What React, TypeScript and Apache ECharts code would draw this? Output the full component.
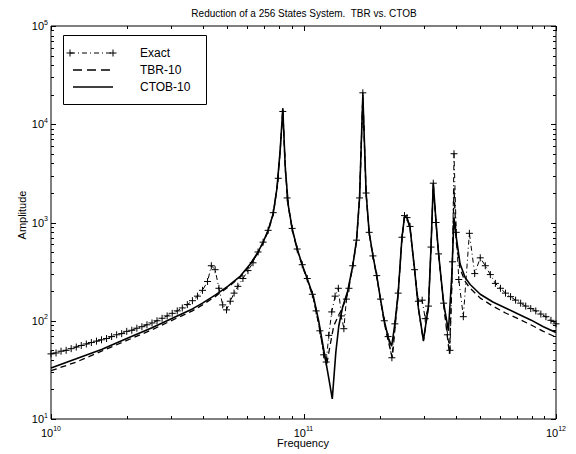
import React, { useEffect, useRef } from "react";
import * as echarts from "echarts";

// Exact response: [frequency (Hz), amplitude]
const exactData: [number, number][] = [
  [1.0e10, 46], [1.047e10, 47], [1.096e10, 49], [1.148e10, 50], [1.202e10, 52],
  [1.259e10, 54], [1.318e10, 56], [1.38e10, 58], [1.445e10, 60], [1.514e10, 62],
  [1.585e10, 64], [1.66e10, 66], [1.738e10, 69], [1.82e10, 72], [1.905e10, 74],
  [1.995e10, 78], [2.089e10, 80], [2.188e10, 84], [2.291e10, 87], [2.399e10, 91],
  [2.512e10, 95], [2.63e10, 100], [2.754e10, 106], [2.884e10, 112], [3.02e10, 119],
  [3.162e10, 126], [3.311e10, 135], [3.467e10, 146], [3.631e10, 160], [3.802e10, 178],
  [3.981e10, 204], [4.169e10, 251], [4.315e10, 363], [4.467e10, 331], [4.624e10, 214],
  [4.786e10, 145], [4.955e10, 129], [5.129e10, 158], [5.309e10, 191], [5.495e10, 224],
  [5.754e10, 269], [6.026e10, 324], [6.31e10, 389], [6.607e10, 501], [6.918e10, 631],
  [7.244e10, 832], [7.586e10, 1259], [7.943e10, 2818], [8.279e10, 13490], [8.61e10, 1778],
  [9.016e10, 871], [9.441e10, 537], [9.886e10, 372], [1.035e11, 269], [1.084e11, 186],
  [1.122e11, 126], [1.161e11, 79], [1.202e11, 45], [1.23e11, 38], [1.259e11, 71],
  [1.294e11, 123], [1.334e11, 178], [1.374e11, 214], [1.413e11, 112], [1.445e11, 83],
  [1.479e11, 166], [1.514e11, 214], [1.567e11, 363], [1.622e11, 661], [1.667e11, 1778],
  [1.718e11, 20890], [1.77e11, 1995], [1.82e11, 794], [1.884e11, 457], [1.95e11, 288],
  [2.018e11, 166], [2.089e11, 100], [2.163e11, 69], [2.239e11, 42], [2.301e11, 93],
  [2.371e11, 191], [2.455e11, 708], [2.512e11, 1175], [2.57e11, 1122], [2.642e11, 912],
  [2.754e11, 331], [2.851e11, 158], [2.951e11, 162], [3.034e11, 105], [3.126e11, 141],
  [3.199e11, 562], [3.266e11, 2512], [3.35e11, 1000], [3.428e11, 479], [3.589e11, 151],
  [3.715e11, 72], [3.802e11, 50], [3.89e11, 398], [3.945e11, 5012], [4.027e11, 794],
  [4.121e11, 263], [4.295e11, 110], [4.539e11, 776], [4.764e11, 302], [5.012e11, 437],
  [5.248e11, 363], [5.495e11, 295], [5.754e11, 240], [6.026e11, 214], [6.31e11, 191],
  [6.607e11, 176], [6.918e11, 162], [7.244e11, 151], [7.586e11, 141], [7.943e11, 133],
  [8.318e11, 126], [8.71e11, 117], [9.12e11, 110], [9.55e11, 101], [1.0e12, 93],
];

// TBR-10 reduced model
const tbrData: [number, number][] = [
  [1.0e10, 31], [1.259e10, 38], [1.585e10, 49], [1.995e10, 63], [2.512e10, 81],
  [3.162e10, 107], [3.631e10, 126], [3.981e10, 145], [4.467e10, 176], [5.012e10, 219],
  [5.623e10, 279], [6.166e10, 372], [6.607e10, 490], [6.918e10, 617], [7.244e10, 813],
  [7.586e10, 1202], [7.852e10, 2188], [8.091e10, 5495], [8.279e10, 14130], [8.472e10, 3467],
  [8.71e10, 1445], [9.016e10, 851], [9.441e10, 525], [9.886e10, 363], [1.047e11, 240],
  [1.096e11, 166], [1.148e11, 93], [1.202e11, 48], [1.236e11, 36], [1.274e11, 56],
  [1.318e11, 89], [1.38e11, 115], [1.429e11, 135], [1.496e11, 195], [1.567e11, 355],
  [1.622e11, 646], [1.667e11, 1738], [1.718e11, 19050], [1.77e11, 1950], [1.82e11, 776],
  [1.884e11, 447], [1.95e11, 282], [2.018e11, 162], [2.089e11, 95], [2.163e11, 63],
  [2.249e11, 42], [2.312e11, 93], [2.371e11, 186], [2.455e11, 692], [2.512e11, 1122],
  [2.57e11, 1096], [2.642e11, 871], [2.754e11, 324], [2.851e11, 132], [2.985e11, 62],
  [3.126e11, 138], [3.199e11, 550], [3.266e11, 2455], [3.35e11, 977], [3.428e11, 468],
  [3.589e11, 145], [3.784e11, 46], [3.873e11, 251], [3.945e11, 2239], [4.027e11, 631],
  [4.169e11, 339], [4.365e11, 251], [4.571e11, 214], [5.012e11, 170], [5.623e11, 141],
  [6.31e11, 120], [7.079e11, 105], [7.943e11, 91], [8.913e11, 78], [1.0e12, 68],
];

// CTOB-10 reduced model
const ctobData: [number, number][] = [
  [1.0e10, 33], [1.259e10, 41], [1.585e10, 51], [1.995e10, 66], [2.512e10, 85],
  [3.162e10, 112], [3.631e10, 132], [3.981e10, 151], [4.467e10, 182], [5.012e10, 224],
  [5.623e10, 285], [6.166e10, 380], [6.607e10, 501], [6.918e10, 631], [7.244e10, 832],
  [7.586e10, 1230], [7.852e10, 2239], [8.091e10, 5623], [8.279e10, 14450], [8.472e10, 3548],
  [8.71e10, 1479], [9.016e10, 871], [9.441e10, 537], [9.886e10, 372], [1.047e11, 245],
  [1.096e11, 174], [1.148e11, 100], [1.202e11, 51], [1.259e11, 26], [1.3e11, 16],
  [1.343e11, 48], [1.38e11, 89], [1.429e11, 138], [1.496e11, 200], [1.567e11, 363],
  [1.622e11, 661], [1.667e11, 1778], [1.718e11, 19950], [1.77e11, 1995], [1.82e11, 794],
  [1.884e11, 457], [1.95e11, 288], [2.018e11, 166], [2.089e11, 100], [2.163e11, 68],
  [2.234e11, 55], [2.301e11, 93], [2.371e11, 191], [2.455e11, 708], [2.512e11, 1148],
  [2.57e11, 1122], [2.642e11, 891], [2.754e11, 331], [2.851e11, 135], [2.985e11, 63],
  [3.126e11, 141], [3.199e11, 562], [3.266e11, 2512], [3.35e11, 1000], [3.428e11, 479],
  [3.589e11, 151], [3.75e11, 79], [3.864e11, 282], [3.945e11, 1122], [4.027e11, 708],
  [4.169e11, 380], [4.365e11, 275], [4.571e11, 234], [5.012e11, 186], [5.623e11, 155],
  [6.31e11, 135], [7.079e11, 117], [7.943e11, 102], [8.913e11, 87], [1.0e12, 76],
];

const xMajorTicks = [1e10, 1e11, 1e12];
const xMinorTicks = [
  2e10, 3e10, 4e10, 5e10, 6e10, 7e10, 8e10, 9e10,
  2e11, 3e11, 4e11, 5e11, 6e11, 7e11, 8e11, 9e11,
];
const yMajorTicks = [1e1, 1e2, 1e3, 1e4, 1e5];
const yMinorTicks = [
  20, 30, 40, 50, 60, 70, 80, 90,
  200, 300, 400, 500, 600, 700, 800, 900,
  2000, 3000, 4000, 5000, 6000, 7000, 8000, 9000,
  20000, 30000, 40000, 50000, 60000, 70000, 80000, 90000,
];

const titleText = "Reduction of a 256 States System.  TBR vs. CTOB";
const legendNames = ["Exact", "TBR-10", "CTOB-10"];
const xName = "Frequency";
const yName = "Amplitude";

const FONT = '"Liberation Sans", Arial, Helvetica, sans-serif';
const X_MIN = 1e10;
const X_MAX = 1e12;
const Y_MIN = 10;
const Y_MAX = 1e5;

function tickSeries(values: number[], orient: "x" | "y", len: number) {
  return {
    type: "custom",
    silent: true,
    z: 10,
    clip: false,
    data: values.map((v) => (orient === "x" ? [v, Y_MIN] : [X_MIN, v])),
    renderItem: (_params: any, api: any) => {
      const style = { stroke: "#000", lineWidth: 1 };
      if (orient === "x") {
        const v = api.value(0);
        const b = api.coord([v, Y_MIN]);
        const t = api.coord([v, Y_MAX]);
        const x = Math.round(b[0]) + 0.5;
        return {
          type: "group",
          children: [
            { type: "line", shape: { x1: x, y1: b[1], x2: x, y2: b[1] - len }, style },
            { type: "line", shape: { x1: x, y1: t[1], x2: x, y2: t[1] + len }, style },
          ],
        };
      }
      const v = api.value(1);
      const l = api.coord([X_MIN, v]);
      const r = api.coord([X_MAX, v]);
      const y = Math.round(l[1]) + 0.5;
      return {
        type: "group",
        children: [
          { type: "line", shape: { x1: l[0], y1: y, x2: l[0] + len, y2: y }, style },
          { type: "line", shape: { x1: r[0], y1: y, x2: r[0] - len, y2: y }, style },
        ],
      };
    },
  };
}

const expFormatter = (v: number) => `{b|10}{e|${Math.round(Math.log10(v))}}`;
const labelRich = {
  b: { fontSize: 11, fontFamily: FONT, color: "#000" },
  e: { fontSize: 7, fontFamily: FONT, color: "#000", padding: [0, 0, 8, 0] },
};

const plusSymbol = "path://M5,0 L5,10 M0,5 L10,5";

export default function App() {
  const ref = useRef<HTMLDivElement>(null);
  useEffect(() => {
    if (!ref.current) return;
    const chart = echarts.init(ref.current, undefined, { renderer: "svg" });
    const legendX1 = 70;
    const legendX2 = 113;
    const rowY = [53, 70, 87];
    const lineStyleBlack = { stroke: "#000", lineWidth: 1 };
    const plusMark = (x: number, y: number) => [
      { type: "line", shape: { x1: x - 3.5, y1: y, x2: x + 3.5, y2: y }, style: lineStyleBlack },
      { type: "line", shape: { x1: x, y1: y - 3.5, x2: x, y2: y + 3.5 }, style: lineStyleBlack },
    ];
    chart.setOption({
      animation: false,
      backgroundColor: "#fff",
      grid: {
        left: 51,
        top: 26,
        width: 505,
        height: 393,
        show: true,
        borderColor: "#000",
        borderWidth: 1,
        backgroundColor: "transparent",
      },
      xAxis: {
        type: "log",
        logBase: 10,
        min: X_MIN,
        max: X_MAX,
        axisLine: { show: false },
        axisTick: { show: false },
        splitLine: { show: false },
        axisLabel: {
          formatter: expFormatter,
          rich: labelRich,
          margin: 6,
          showMinLabel: true,
          showMaxLabel: true,
        },
      },
      yAxis: {
        type: "log",
        logBase: 10,
        min: Y_MIN,
        max: Y_MAX,
        axisLine: { show: false },
        axisTick: { show: false },
        splitLine: { show: false },
        axisLabel: {
          formatter: expFormatter,
          rich: labelRich,
          margin: 3,
          showMinLabel: true,
          showMaxLabel: true,
        },
      },
      series: [
        {
          name: legendNames[0],
          type: "line",
          data: exactData,
          symbol: plusSymbol,
          symbolSize: 7,
          showSymbol: true,
          itemStyle: { color: "#000", borderColor: "#000", borderWidth: 1 },
          lineStyle: { color: "#000", width: 1, type: [5, 3, 1, 3] },
          silent: true,
          z: 3,
        },
        {
          name: legendNames[1],
          type: "line",
          data: tbrData,
          showSymbol: false,
          symbol: "none",
          lineStyle: { color: "#000", width: 1.3, type: [6, 4] },
          silent: true,
          z: 4,
        },
        {
          name: legendNames[2],
          type: "line",
          data: ctobData,
          showSymbol: false,
          symbol: "none",
          lineStyle: { color: "#000", width: 1.6, type: "solid" },
          silent: true,
          z: 5,
        },
        tickSeries(xMajorTicks, "x", 5),
        tickSeries(xMinorTicks, "x", 3),
        tickSeries(yMajorTicks, "y", 5),
        tickSeries(yMinorTicks, "y", 3),
      ],
      graphic: [
        {
          type: "text",
          x: 304,
          y: 13,
          style: {
            text: titleText,
            font: `10px ${FONT}`,
            fill: "#000",
            textAlign: "center",
            textVerticalAlign: "middle",
          },
        },
        {
          type: "text",
          x: 303,
          y: 443,
          style: {
            text: xName,
            font: `11px ${FONT}`,
            fill: "#000",
            textAlign: "center",
            textVerticalAlign: "middle",
          },
        },
        {
          type: "text",
          x: 22,
          y: 215,
          rotation: Math.PI / 2,
          style: {
            text: yName,
            font: `11px ${FONT}`,
            fill: "#000",
            textAlign: "center",
            textVerticalAlign: "middle",
          },
        },
        {
          type: "group",
          z: 50,
          children: [
            {
              type: "rect",
              shape: { x: 63.5, y: 35.5, width: 143, height: 69 },
              style: { fill: "#fff", stroke: "#000", lineWidth: 1 },
            },
            {
              type: "line",
              shape: { x1: legendX1, y1: rowY[0], x2: legendX2, y2: rowY[0] },
              style: { stroke: "#000", lineWidth: 1, lineDash: [5, 3, 1, 3] },
            },
            ...plusMark(legendX1, rowY[0]),
            ...plusMark(legendX2, rowY[0]),
            {
              type: "line",
              shape: { x1: legendX1 + 3, y1: rowY[1], x2: legendX2, y2: rowY[1] },
              style: { stroke: "#000", lineWidth: 1.3, lineDash: [9, 5] },
            },
            {
              type: "line",
              shape: { x1: legendX1 + 3, y1: rowY[2], x2: legendX2, y2: rowY[2] },
              style: { stroke: "#000", lineWidth: 1.6 },
            },
            ...legendNames.map((n, i) => ({
              type: "text",
              x: 140,
              y: rowY[i],
              style: {
                text: n,
                font: `12px ${FONT}`,
                fill: "#000",
                textAlign: "left",
                textVerticalAlign: "middle",
              },
            })),
          ],
        },
      ],
    });
    return () => chart.dispose();
  }, []);
  return (
    <div
      ref={ref}
      style={{ position: "absolute", left: 0, top: 0, width: 576, height: 454 }}
    />
  );
}
